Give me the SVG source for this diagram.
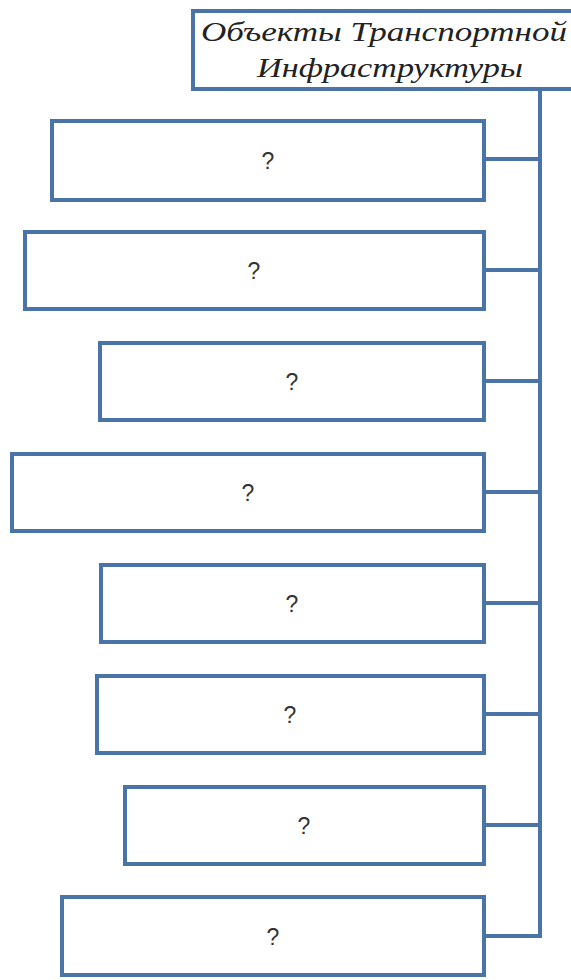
<svg xmlns="http://www.w3.org/2000/svg" width="571" height="980" viewBox="0 0 571 980">
<style>
.box{fill:#fff;stroke:#4a73a8;stroke-width:4}
.con{fill:none;stroke:#4a73a8;stroke-width:4}
.q{font-family:"Liberation Sans",Arial,sans-serif;font-size:23px;fill:#333;text-anchor:middle}
.t{font-family:"Liberation Serif","Times New Roman",serif;font-style:italic;font-size:28px;fill:#222;text-anchor:middle}
</style>
<rect width="571" height="980" fill="#fff"/>
<g id="connectors">
<path class="con" d="M540,89 V936 H484"/>
<path class="con" d="M484,159 H540 M484,270 H540 M484,381 H540 M484,492 H540 M484,603 H540 M484,714 H540 M484,825 H540"/>
</g>
<g id="root">
<rect class="box" x="193" y="11" width="390" height="78"/>
<text class="t" x="384" y="41" textLength="366" lengthAdjust="spacingAndGlyphs">Объекты Транспортной</text>
<text class="t" x="390" y="77" textLength="266" lengthAdjust="spacingAndGlyphs">Инфраструктуры</text>
</g>
<g id="n1"><rect class="box" x="52" y="121" width="432" height="79"/><text class="q" x="268" y="169">?</text></g>
<g id="n2"><rect class="box" x="25" y="232" width="459" height="77"/><text class="q" x="254" y="279">?</text></g>
<g id="n3"><rect class="box" x="100" y="343" width="384" height="77"/><text class="q" x="292" y="390">?</text></g>
<g id="n4"><rect class="box" x="12" y="454" width="472" height="77"/><text class="q" x="248" y="501">?</text></g>
<g id="n5"><rect class="box" x="101" y="565" width="383" height="77"/><text class="q" x="292" y="612">?</text></g>
<g id="n6"><rect class="box" x="97" y="676" width="387" height="77"/><text class="q" x="290" y="723">?</text></g>
<g id="n7"><rect class="box" x="125" y="787" width="359" height="77"/><text class="q" x="304" y="834">?</text></g>
<g id="n8"><rect class="box" x="62" y="897" width="422" height="78"/><text class="q" x="273" y="945">?</text></g>
</svg>
